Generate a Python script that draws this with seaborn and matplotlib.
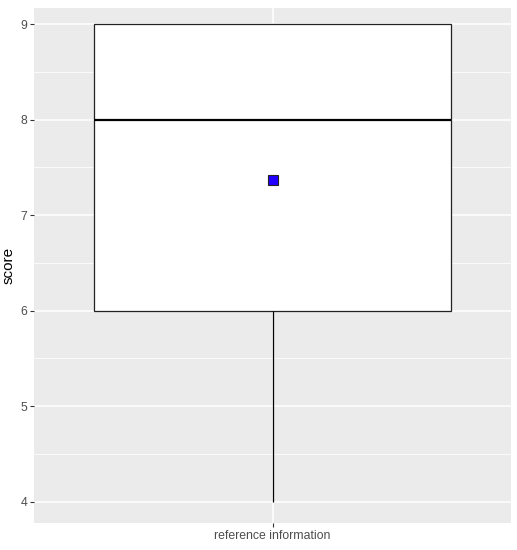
import matplotlib
matplotlib.use('Agg')
import matplotlib.pyplot as plt
import seaborn as sns
import pandas as pd
from matplotlib.ticker import MultipleLocator

sns.set_theme(style='darkgrid')
plt.rcParams['font.family'] = ['Liberation Sans', 'DejaVu Sans']

# scores: min 4, Q1 6, median 8, Q3 9, max 9, mean ~7.37
category = 'reference information'
scores = [4, 5, 6, 6, 6, 6, 7, 7, 7, 8, 8, 8, 8, 9, 9, 9, 9, 9, 9]

df = pd.DataFrame({'group': [category] * len(scores), 'score': scores})

fig, ax = plt.subplots(figsize=(5.17, 5.5), dpi=100)
fig.subplots_adjust(left=0.0658, right=0.9884, top=0.9855, bottom=0.0491)
ax.set_facecolor('#EBEBEB')

sns.boxplot(data=df, x='group', y='score', ax=ax, width=0.9,
            color='white', linecolor='black', linewidth=0.9, fill=True,
            showmeans=True, showfliers=False,
            meanprops=dict(marker='s', markerfacecolor='#2200FF',
                           markeredgecolor='#222222', markersize=6.5,
                           markeredgewidth=0.8),
            medianprops=dict(color='black', linewidth=1.6),
            capprops=dict(linewidth=0),
            boxprops=dict(facecolor='white', edgecolor='#222222'))

ax.set_xlim(-0.6, 0.6)
ax.set_ylim(3.775, 9.17)
ax.yaxis.set_major_locator(MultipleLocator(1))
ax.yaxis.set_minor_locator(MultipleLocator(0.5))
ax.grid(which='major', color='white', linewidth=1.1)
ax.grid(which='minor', axis='y', color='white', linewidth=0.55)
ax.set_axisbelow(True)
for s in ax.spines.values():
    s.set_visible(False)

ax.tick_params(axis='both', which='major', length=3, width=0.8, color='#333333',
               labelcolor='#4D4D4D', labelsize=8.8, pad=2, bottom=True, left=True)
ax.tick_params(axis='both', which='minor', length=0)
ax.set_xlabel('')
ax.set_ylabel('score', fontsize=11, color='black', labelpad=3)

fig.savefig('out.png', dpi=100, facecolor='white')
